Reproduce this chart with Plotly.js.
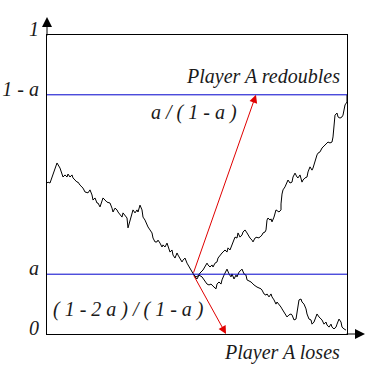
<!DOCTYPE html>
<html>
<head>
<meta charset="utf-8">
<script src="https://cdn.plot.ly/plotly-3.0.1.min.js"></script>
<style>html,body{margin:0;padding:0;background:#fff;}#chart{width:368px;height:374px;}</style>
</head>
<body>
<div id="chart"></div>
<script>
// Level parameter a and tick labels
const aLevel = 0.2;
const yTickVals = [0, 0.2, 0.8, 1];
const yTickText = ['0', 'a', '1 - a', '1'];

// Path that ends with "Player A loses" (time steps 0..300, value 0..1)
const loseT = [0,1,3,5,6,10,13,16,18,20,21,23,25,26,30,31,33,36,38,41,43,45,46,48,50,51,53,55,56,60,63,65,66,68,70,71,75,76,78,80,81,83,85,86,88,90,91,93,95,96,98,100,101,103,105,106,108,110,111,113,115,116,118,120,121,123,125,126,128,130,131,133,135,136,138,140,141,143,145,146,148,150,152,155,159,160,162,164,167,169,170,172,174,175,177,179,180,182,184,185,187,189,190,192,194,195,197,199,200,204,207,210,214,215,217,219,220,222,224,225,227,229,230,232,234,235,237,239,240,242,244,245,247,249,250,252,254,255,257,259,260,262,264,265,267,269,270,272,274,275,277,279,280,282,284,285,287,289,290,292,294,295,297,299];
const loseY = [0.505,0.508,0.505,0.525,0.538,0.572,0.555,0.525,0.532,0.525,0.535,0.525,0.532,0.522,0.508,0.508,0.498,0.488,0.475,0.472,0.482,0.465,0.448,0.455,0.438,0.438,0.425,0.448,0.455,0.441,0.438,0.421,0.408,0.421,0.415,0.408,0.391,0.405,0.398,0.388,0.355,0.381,0.398,0.415,0.405,0.415,0.408,0.431,0.415,0.391,0.381,0.365,0.358,0.348,0.338,0.321,0.308,0.308,0.314,0.304,0.291,0.298,0.291,0.304,0.291,0.274,0.281,0.264,0.254,0.271,0.264,0.254,0.241,0.247,0.254,0.237,0.231,0.221,0.207,0.201,0.191,0.184,0.197,0.191,0.174,0.167,0.164,0.167,0.157,0.151,0.167,0.174,0.167,0.181,0.197,0.214,0.217,0.201,0.191,0.201,0.184,0.197,0.191,0.207,0.214,0.217,0.201,0.197,0.181,0.174,0.164,0.157,0.151,0.147,0.134,0.130,0.134,0.124,0.134,0.124,0.114,0.100,0.107,0.100,0.090,0.084,0.074,0.064,0.057,0.064,0.067,0.064,0.047,0.050,0.074,0.114,0.117,0.107,0.100,0.084,0.067,0.050,0.047,0.033,0.040,0.064,0.067,0.057,0.050,0.047,0.033,0.040,0.030,0.023,0.033,0.023,0.017,0.023,0.033,0.050,0.040,0.023,0.017,0.013];

// Path that ends with "Player A redoubles"
const redoubleT = [146,149,151,153,156,158,160,161,163,165,166,168,170,171,173,175,176,178,180,181,183,185,186,188,190,191,193,195,196,198,200,201,203,205,206,208,210,211,213,215,216,218,219,220,221,223,224,225,227,229,232,234,234,235,236,238,240,241,243,245,246,248,250,251,253,255,256,258,260,261,263,265,266,268,270,271,273,275,276,278,280,281,283,285,286,288,290,291,293,295,296,298,300,300];
const redoubleY = [0.201,0.191,0.194,0.204,0.214,0.224,0.237,0.231,0.224,0.231,0.224,0.237,0.241,0.254,0.264,0.271,0.274,0.281,0.274,0.288,0.281,0.298,0.308,0.324,0.321,0.338,0.324,0.331,0.341,0.348,0.338,0.331,0.321,0.314,0.308,0.321,0.324,0.321,0.324,0.331,0.338,0.341,0.348,0.381,0.388,0.381,0.385,0.375,0.391,0.415,0.408,0.415,0.435,0.468,0.482,0.492,0.508,0.515,0.505,0.508,0.525,0.538,0.525,0.522,0.532,0.508,0.515,0.522,0.525,0.542,0.559,0.548,0.555,0.582,0.599,0.605,0.609,0.622,0.625,0.632,0.639,0.642,0.639,0.642,0.659,0.732,0.739,0.726,0.722,0.726,0.732,0.766,0.776,0.800];

// Crossing point and arrow targets (time, value)
const crossPoint = [146, 0.2];
const upTarget = [209, 0.8];
const downTarget = [179, 0];

// Text labels
const labelRedouble = 'Player A redoubles';
const labelLoses = 'Player A loses';
const labelUpProb = 'a / ( 1 - a )';
const labelDownProb = '( 1 - 2 a ) / ( 1 - a )';

const textFont = {family: 'Liberation Serif, Times New Roman, serif', size: 20, style: 'italic', color: '#1a1a1a'};

const traces = [
  {x: loseT, y: loseY, type: 'scatter', mode: 'lines', line: {color: '#000', width: 1}, hoverinfo: 'skip'},
  {x: redoubleT, y: redoubleY, type: 'scatter', mode: 'lines', line: {color: '#000', width: 1}, hoverinfo: 'skip'}
];

const layout = {
  width: 368, height: 374,
  margin: {l: 47, r: 21, t: 35, b: 40, pad: 0},
  paper_bgcolor: '#fff', plot_bgcolor: '#fff',
  showlegend: false,
  xaxis: {range: [0, 300], showgrid: false, zeroline: false, showticklabels: false, ticks: '',
          showline: true, linecolor: '#000', linewidth: 1, mirror: true, fixedrange: true},
  yaxis: {range: [0, 1], showgrid: false, zeroline: false, ticks: '',
          tickvals: yTickVals, ticktext: yTickText, tickfont: textFont,
          ticklabelshift: -6, ticklabelstandoff: 3,
          showline: true, linecolor: '#000', linewidth: 1, mirror: true, fixedrange: true},
  shapes: [
    {type: 'line', xref: 'paper', yref: 'y', x0: 0, x1: 1, y0: aLevel, y1: aLevel, line: {color: '#0000cc', width: 1}},
    {type: 'line', xref: 'paper', yref: 'y', x0: 0, x1: 1, y0: 1 - aLevel, y1: 1 - aLevel, line: {color: '#0000cc', width: 1}}
  ],
  annotations: [
    // axis arrows
    {xref: 'paper', yref: 'paper', x: 1.06, y: 0, ax: -20, ay: 0, text: '', showarrow: true,
     arrowhead: 2, arrowsize: 2, arrowwidth: 1, arrowcolor: '#000', standoff: 0},
    {xref: 'paper', yref: 'paper', x: 0, y: 1.06, ax: 0, ay: 20, text: '', showarrow: true,
     arrowhead: 2, arrowsize: 2, arrowwidth: 1, arrowcolor: '#000', standoff: 0},
    // red probability arrows
    {xref: 'x', yref: 'y', axref: 'x', ayref: 'y', x: upTarget[0], y: upTarget[1], ax: crossPoint[0], ay: crossPoint[1],
     text: '', showarrow: true, arrowhead: 2, arrowsize: 1.6, arrowwidth: 1, arrowcolor: '#e00000', standoff: 0},
    {xref: 'x', yref: 'y', axref: 'x', ayref: 'y', x: downTarget[0], y: downTarget[1], ax: crossPoint[0], ay: crossPoint[1],
     text: '', showarrow: true, arrowhead: 2, arrowsize: 1.6, arrowwidth: 1, arrowcolor: '#e00000', standoff: 0},
    // text labels
    {xref: 'paper', yref: 'paper', x: 0.983, y: 0.86, xanchor: 'right', yanchor: 'middle', text: labelRedouble, showarrow: false, font: textFont},
    {xref: 'paper', yref: 'paper', x: 0.49, y: 0.74, xanchor: 'center', yanchor: 'middle', text: labelUpProb, showarrow: false, font: textFont},
    {xref: 'paper', yref: 'paper', x: 0.27, y: 0.083, xanchor: 'center', yanchor: 'middle', text: labelDownProb, showarrow: false, font: textFont},
    {xref: 'paper', yref: 'paper', x: 0.983, y: -0.063, xanchor: 'right', yanchor: 'middle', text: labelLoses, showarrow: false, font: textFont}
  ]
};

Plotly.newPlot('chart', traces, layout, {staticPlot: true, displayModeBar: false});
</script>
</body>
</html>
